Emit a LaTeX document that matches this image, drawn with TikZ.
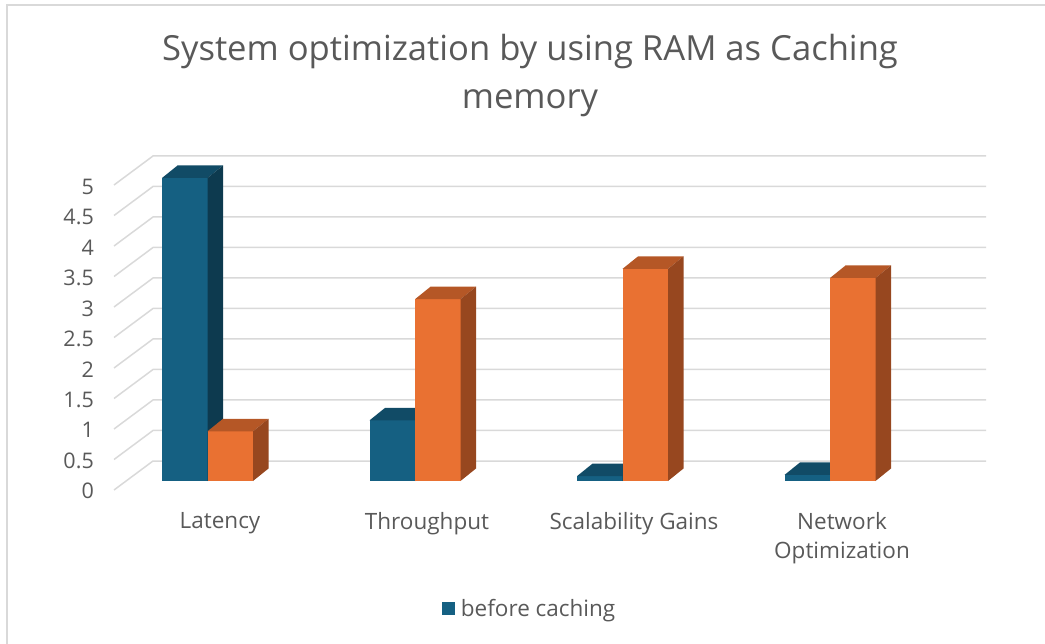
\documentclass[tikz,border=0pt]{standalone}
\usepackage{fontspec}
\setmainfont{Open Sans}
\usetikzlibrary{positioning}
\definecolor{barblue}{HTML}{156082}
\definecolor{barbluetop}{HTML}{114B66}
\definecolor{barblueside}{HTML}{0D3A4F}
\definecolor{barorange}{HTML}{E97132}
\definecolor{barorangetop}{HTML}{B55726}
\definecolor{barorangeside}{HTML}{97471F}
\definecolor{gridgray}{HTML}{D9D9D9}
\definecolor{labelgray}{HTML}{595959}
\tikzset{
    gridline/.style={gridgray, line width=1.5pt},
    ticklabel/.style={text=labelgray, anchor=east, inner sep=0pt, font=\fontsize{21.5}{24}\selectfont},
    catlabel/.style={text=labelgray, align=center, inner sep=0pt, font=\fontsize{22.5}{29}\selectfont},
}
% #1 left x, #2 value, #3 front, #4 top, #5 side
\newcommand{\drawbar}[5]{%
    \pgfmathsetmacro{\ytop}{481-#2*60.6}
    \fill [#3] (#1, 481) rectangle ({#1+45.5}, \ytop);
    \fill [#4] (#1, \ytop) -- ({#1+45.5}, \ytop) -- ({#1+61}, {\ytop-12.5}) -- ({#1+15.5}, {\ytop-12.5}) -- cycle;
    \fill [#5] ({#1+45.5}, 481) -- ({#1+45.5}, \ytop) -- ({#1+61}, {\ytop-12.5}) -- ({#1+61}, 468.5) -- cycle;
}
\begin{document}
\begin{tikzpicture}[x=1pt, y=-1pt]
    \useasboundingbox (0, 0) rectangle (1045, 644);
    \draw [gridgray, line width=2pt] (7, 644) -- (7, 5) -- (1045, 5);
    \node [text=labelgray, align=center, font=\fontsize{34.6}{48}\selectfont] (title) at (530, 75.5) {System optimization by using RAM as Caching\\memory};
    % grid walls
    \foreach \k in {0,...,10} {
        \draw [gridline] (114, {490-\k*30.5}) -- (153, {461-\k*30.5}) -- (986, {461-\k*30.5});
    }
    \foreach \k/\lab in {0/0, 1/0.5, 2/1, 3/1.5, 4/2, 5/2.5, 6/3, 7/3.5, 8/4, 9/4.5, 10/5} {
        \node [ticklabel] (tick\k) at (94, {491-\k*30.4}) {\lab};
    }
    % bars
    \drawbar{162}{5}{barblue}{barbluetop}{barblueside}
    \drawbar{207.5}{0.82}{barorange}{barorangetop}{barorangeside}
    \drawbar{369.5}{1.0}{barblue}{barbluetop}{barblueside}
    \drawbar{415}{3.0}{barorange}{barorangetop}{barorangeside}
    \drawbar{577}{0.08}{barblue}{barbluetop}{barblueside}
    \drawbar{622.5}{3.5}{barorange}{barorangetop}{barorangeside}
    \drawbar{784.5}{0.1}{barblue}{barbluetop}{barblueside}
    \drawbar{830}{3.35}{barorange}{barorangetop}{barorangeside}
    % categories
    \node [catlabel] (latency) at (220, 523.5) {Latency};
    \node [catlabel] (throughput) at (427, 523.5) {Throughput};
    \node [catlabel] (scalability) at (634, 523.5) {Scalability Gains};
    \node [catlabel] (network) at (842, 538) {Network\\Optimization};
    % legend
    \node [fill=barblue, minimum size=13pt, inner sep=0pt] (legendkey) at (448, 608.5) {};
    \node [catlabel, right=6pt of legendkey, yshift=-2pt] (legendtext) {before caching};
\end{tikzpicture}
\end{document}
